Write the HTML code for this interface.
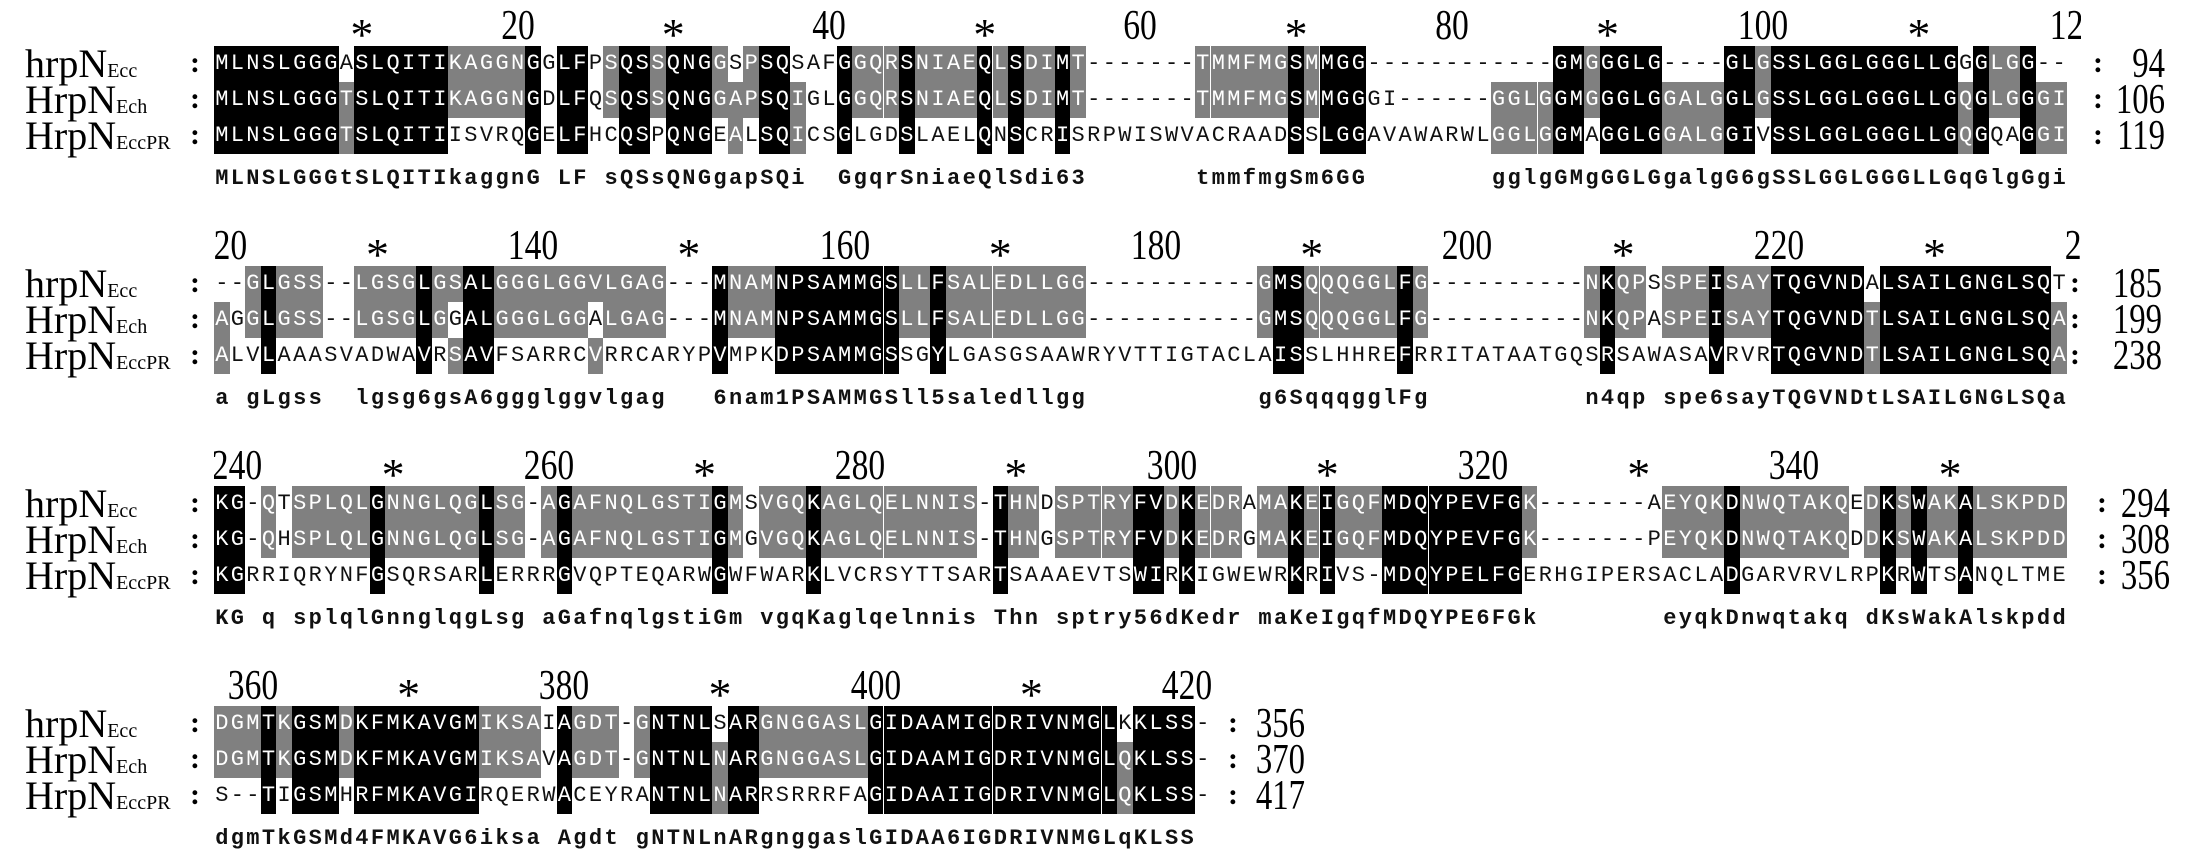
<!DOCTYPE html>
<html><head><meta charset="utf-8">
<style>
html,body{margin:0;padding:0;background:#fff;}
body{width:2205px;height:860px;position:relative;overflow:hidden;}
.a{position:absolute;}
.cell{position:absolute;width:15.6px;height:36px;line-height:36px;text-align:center;font-family:"Liberation Mono",monospace;font-size:22px;}
.cons{position:absolute;width:15.6px;height:30px;line-height:30px;text-align:center;font-family:"Liberation Mono",monospace;font-size:22px;font-weight:bold;color:#111;}
.lab{position:absolute;left:25px;height:40px;line-height:40px;font-family:"Liberation Serif",serif;font-size:40px;color:#000;white-space:nowrap;}
.lab span{font-size:20px;}
.col{position:absolute;height:40px;line-height:40px;font-family:"Liberation Serif",serif;font-size:30px;font-weight:bold;}
.num{position:absolute;height:44px;line-height:44px;font-family:"Liberation Serif",serif;font-size:42px;transform:scaleX(0.78);transform-origin:right center;text-align:right;width:120px;}
.rul{position:absolute;overflow:hidden;height:50px;}
.rl{position:absolute;top:0;width:100px;height:50px;line-height:50px;text-align:center;font-family:"Liberation Serif",serif;font-size:42px;}
.rl.n{transform:scaleX(0.8);}
.rl.s{top:9px;font-size:46px;}
</style></head>
<body>
<script>
const W=15.57,X0=214,P=36;
const B=[
{y:64,start:1,colon:2093,end:2165,nums:[94,106,119],rows:[
"MLNSLGGGASLQITIKAGGNGGLFPSQSSQNGGSPSQSAFGGQRSNIAEQLSDIMT-------TMMFMGSMMGG------------GMGGGLG----GLGSSLGGLGGGLLGGGLGG--",
"MLNSLGGGTSLQITIKAGGNGDLFQSQSSQNGGAPSQIGLGGQRSNIAEQLSDIMT-------TMMFMGSMMGGGI------GGLGGMGGGLGGALGGLGSSLGGLGGGLLGQGLGGGI",
"MLNSLGGGTSLQITIISVRQGELFHCQSPQNGEALSQICSGLGDSLAELQNSCRISRPWISWVACRAADSSLGGAVAWARWLGGLGGMAGGLGGALGGIVSSLGGLGGGLLGQGQAGGI"]},
{y:284,start:120,colon:2070,end:2162,nums:[185,199,238],rows:[
"--GLGSS--LGSGLGSALGGGLGGVLGAG---MNAMNPSAMMGSLLFSALEDLLGG-----------GMSQQQGGLFG----------NKQPSSPEISAYTQGVNDALSAILGNGLSQT",
"AGGLGSS--LGSGLGGALGGGLGGALGAG---MNAMNPSAMMGSLLFSALEDLLGG-----------GMSQQQGGLFG----------NKQPASPEISAYTQGVNDTLSAILGNGLSQA",
"ALVLAAASVADWAVRSAVFSARRCVRRCARYPVMPKDPSAMMGSSGYLGASGSAAWRYVTTIGTACLAISSLHHREFRRITATAATGQSRSAWASAVRVRTQGVNDTLSAILGNGLSQA"]},
{y:504,start:239,colon:2097,end:2170,nums:[294,308,356],rows:[
"KG-QTSPLQLGNNGLQGLSG-AGAFNQLGSTIGMSVGQKAGLQELNNIS-THNDSPTRYFVDKEDRAMAKEIGQFMDQYPEVFGK-------AEYQKDNWQTAKQEDKSWAKALSKPDD",
"KG-QHSPLQLGNNGLQGLSG-AGAFNQLGSTIGMGVGQKAGLQELNNIS-THNGSPTRYFVDKEDRGMAKEIGQFMDQYPEVFGK-------PEYQKDNWQTAKQDDKSWAKALSKPDD",
"KGRRIQRYNFGSQRSARLERRRGVQPTEQARWGWFWARKLVCRSYTTSARTSAAAEVTSWIRKIGWEWRKRIVS-MDQYPELFGERHGIPERSACLADGARVRVLRPKRWTSANQLTME"]},
{y:724,start:358,colon:1228,end:1305,nums:[356,370,417],rows:[
"DGMTKGSMDKFMKAVGMIKSAIAGDT-GNTNLSARGNGGASLGIDAAMIGDRIVNMGLKKLSS-",
"DGMTKGSMDKFMKAVGMIKSAVAGDT-GNTNLNARGNGGASLGIDAAMIGDRIVNMGLQKLSS-",
"S--TIGSMHRFMKAVGIRQERWACEYRANTNLNARRSRRRFAGIDAAIIGDRIVNMGLQKLSS-"]}
];
const labs=[["hrpN","Ecc"],["HrpN","Ech"],["HrpN","EccPR"]];
const G={N:'1',D:'1',S:'3',T:'3',K:'4',R:'4',F:'5',Y:'5',W:'5',I:'6',L:'6',M:'6',V:'6'};
function el(cls,txt,st){const d=document.createElement('div');d.className=cls;if(txt!==null)d.textContent=txt;d.style.cssText=st;document.body.appendChild(d);return d;}
for(const b of B){
  const n=b.rows[0].length;
  const rul=el('rul',null,`left:${X0}px;top:${b.y-38-25}px;width:${(n*W+14).toFixed(1)}px;`);
  for(let p=b.start-3;p<=b.start+n+2;p++){
    if(p%10)continue;
    const c=p-b.start; const cx=c*W+W/2;
    const d=document.createElement('div');
    const isN=p%20==0;
    d.className='rl '+(isN?'n':'s');
    d.textContent=isN?String(p):'*';
    d.style.left=(cx-50).toFixed(1)+'px';
    rul.appendChild(d);
  }
  for(let r=0;r<3;r++){
    const cy=b.y+r*P;
    const l=el('lab',labs[r][0],`top:${cy-20}px;`);
    const s=document.createElement('span');s.textContent=labs[r][1];l.appendChild(s);
    el('col',':',`left:190px;top:${cy-21}px;`);
    el('col',':',`left:${b.colon}px;top:${cy-21}px;`);
    el('num',String(b.nums[r]),`left:${b.end-120}px;top:${cy-22}px;`);
  }
  for(let i=0;i<n;i++){
    const ch=b.rows.map(s=>s[i]);
    const [a,bb,c]=ch;
    let cons=' ',shade=[0,0,0];
    const ng=ch.every(x=>x!=='-');
    if(ng&&a===bb&&bb===c){cons=a;shade=[2,2,2];}
    else if(ng&&G[a]&&G[a]===G[bb]&&G[bb]===G[c]){cons=G[a];
      if(cons==='3'){ if(a===bb){shade=[1,1,0];} else if(a===c){shade=[1,0,1];} else if(bb===c){shade=[0,1,1];} }
      else shade=[2,2,2];}
    else if(a!=='-'&&a===bb){cons=a.toLowerCase();shade=[1,1,0];}
    else if(a!=='-'&&a===c){cons=a.toLowerCase();shade=[1,0,1];}
    else if(bb!=='-'&&bb===c){cons=bb.toLowerCase();shade=[0,1,1];}
    const x=(X0+i*W).toFixed(1);
    for(let r=0;r<3;r++){
      const cy=b.y+r*P;
      const bg=shade[r]==2?'#000':shade[r]==1?'#808080':'transparent';
      const fg=shade[r]?'#fff':'#111';
      el('cell',ch[r],`left:${x}px;top:${(cy-18).toFixed(1)}px;background:${bg};color:${fg};`);
    }
    if(cons!==' ')el('cons',cons,`left:${x}px;top:${b.y+115-15}px;`);
  }
}
</script>
</body></html>
